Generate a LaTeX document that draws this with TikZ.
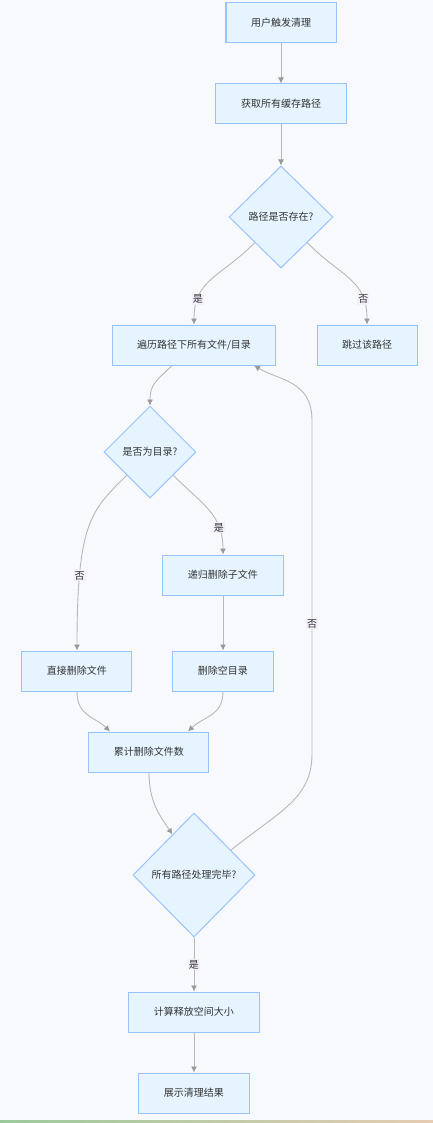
\documentclass[tikz,border=0pt]{standalone}
\usepackage{fontspec}
\setmainfont{Noto Sans CJK SC}
\usetikzlibrary{shapes.geometric, arrows.meta, positioning}
\definecolor{boxblue}{HTML}{E6F4FF}
\definecolor{lineblue}{HTML}{99C3FF}
\definecolor{edgegray}{HTML}{B8B8B8}
\definecolor{tipgray}{HTML}{999999}
\definecolor{lblbg}{HTML}{F3EEFC}
\definecolor{pagebg}{HTML}{F8F9FC}
\definecolor{textgray}{HTML}{333333}

\begin{document}
\begin{tikzpicture}[x=1pt, y=1pt, node distance=81pt]
\tikzstyle{proc} = [rectangle, minimum height=40pt, inner xsep=25pt, text centered, draw=lineblue, line width=1pt, fill=boxblue, text=textgray]
\tikzstyle{decide} = [diamond, aspect=1, inner sep=0pt, text centered, draw=lineblue, line width=1pt, fill=boxblue, text=textgray]
\tikzstyle{arrow} = [draw=edgegray, line width=0.9pt, -{Latex[length=6pt, width=6pt, color=tipgray]}]
\tikzstyle{lbl} = [fill=lblbg, inner sep=1pt, text=textgray]

\useasboundingbox (-281,23) rectangle (152,-1100);
\fill[pagebg] (-281,23) rectangle (152,-1100);
\shade[left color=green!30!gray!60, middle color=yellow!70!white, right color=brown!40!white] (-281,-1097) rectangle (152,-1100);

\node (start) [proc] {用户触发清理};
\node (getpaths) [proc, below of=start] {获取所有缓存路径};
\node (exists) [decide, below of=getpaths, yshift=-32pt, minimum width=104pt, minimum height=102pt] {路径是否存在?};

\node (walk) [proc, below of=exists, xshift=-87pt, yshift=-47pt] {遍历路径下所有文件/目录};
\node (skip) [proc, below of=exists, xshift=86pt, yshift=-47pt] {跳过该路径};

\node (isdir) [decide, below of=walk, xshift=-44pt, yshift=-26pt, minimum size=92pt] {是否为目录?};
\node (recdel) [proc, below of=isdir, xshift=73pt, yshift=-42pt] {递归删除子文件};
\node (delfile) [proc, below of=isdir, xshift=-73pt, yshift=-138pt] {直接删除文件};
\node (deldir) [proc, below of=recdel, yshift=-15pt] {删除空目录};
\node (count) [proc, below of=delfile, xshift=72pt] {累计删除文件数};

\node (alldone) [decide, below of=count, xshift=45pt, yshift=-42pt, minimum width=122pt, minimum height=124pt] {所有路径处理完毕?};
\node (calc) [proc, below of=alldone, yshift=-56pt] {计算释放空间大小};
\node (show) [proc, below of=calc] {展示清理结果};

\draw [arrow] (start) -- (getpaths);
\draw [arrow] (getpaths) -- (exists);
\draw [arrow] (exists.south west) .. controls +(-35,-35) and +(0,45) .. node[lbl, pos=0.77] {是} (walk.north);
\draw [arrow] (exists.south east) .. controls +(35,-35) and +(0,45) .. node[lbl, pos=0.77] {否} (skip.north);
\draw [arrow] ([xshift=-22pt]walk.south) .. controls +(-15,-15) and +(0,22) .. (isdir.north);
\draw [arrow] (isdir.south west) .. controls +(-35,-35) and +(0,130) .. node[lbl, pos=0.76] {否} (delfile.north);
\draw [arrow] (isdir.south east) .. controls +(30,-30) and +(0,40) .. node[lbl, pos=0.73] {是} (recdel.north);
\draw [arrow] (recdel) -- (deldir);
\draw [arrow] (delfile.south) .. controls +(0,-25) and +(-15,15) .. ([xshift=-39pt]count.north);
\draw [arrow] (deldir.south) .. controls +(0,-25) and +(15,15) .. ([xshift=39pt]count.north);
\draw [arrow] (count.south) .. controls +(0,-30) and +(-12,18) .. (alldone.118);
\draw [arrow] (alldone.34) .. controls +(50,40) and +(0,-45) .. ([xshift=118pt, yshift=-388pt]walk.south) -- node[lbl, pos=0.39] {否} ([xshift=118pt, yshift=-55pt]walk.south) .. controls +(0,40) and +(25,-15) .. ([xshift=60pt]walk.south);
\draw [arrow] (alldone) -- node[lbl] {是} (calc);
\draw [arrow] (calc) -- (show);

\end{tikzpicture}
\end{document}
